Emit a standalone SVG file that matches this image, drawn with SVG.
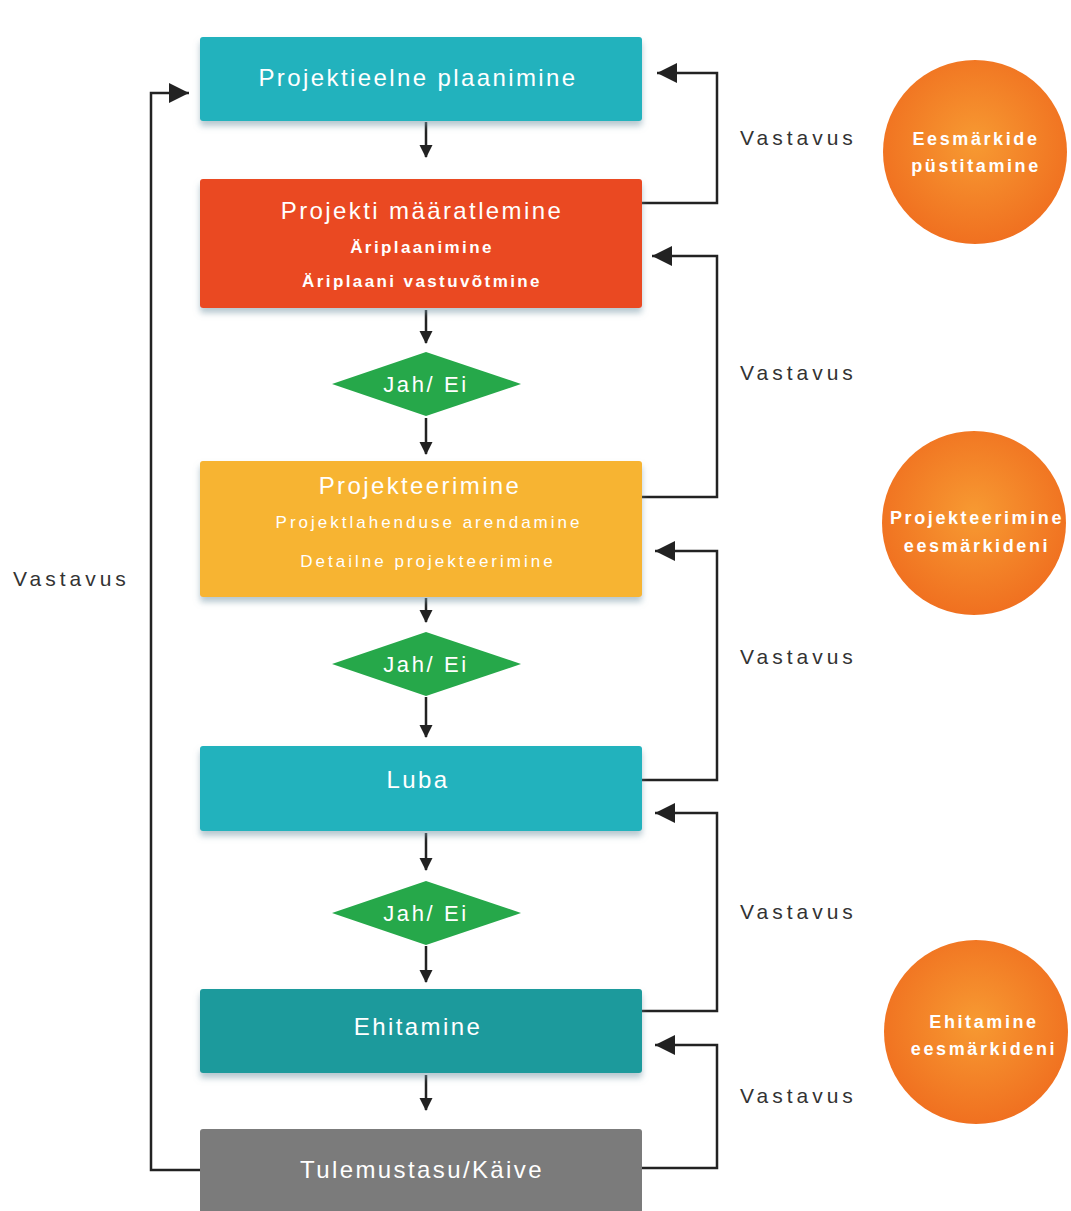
<svg xmlns="http://www.w3.org/2000/svg" width="1071" height="1211" viewBox="0 0 1071 1211">
<style>
.t{font-family:"Liberation Sans",Arial,sans-serif;fill:#fff;text-anchor:middle}
.big{font-size:24px;letter-spacing:2.4px}
.sm{font-size:17px;letter-spacing:3px}
.b{font-weight:bold;letter-spacing:2.4px}
.dm{font-size:22px;letter-spacing:2.6px}
.lab{font-family:"Liberation Sans",Arial,sans-serif;font-size:21px;letter-spacing:4px;fill:#333}
.cir{font-family:"Liberation Sans",Arial,sans-serif;font-size:18px;font-weight:bold;fill:#fff;text-anchor:middle;letter-spacing:2.6px}
.ln{fill:none;stroke:#222;stroke-width:2.5}
</style>
<defs>
<marker id="ah" markerWidth="14" markerHeight="14" refX="12" refY="6.5" orient="auto" markerUnits="userSpaceOnUse"><path d="M0,0 L13,6.5 L0,13 Z" fill="#222"/></marker>
<marker id="ab" markerWidth="22" markerHeight="20" refX="20" refY="10" orient="auto" markerUnits="userSpaceOnUse"><path d="M0,0 L20,10 L0,20 Z" fill="#222"/></marker>
<radialGradient id="og" cx="50%" cy="45%" r="55%"><stop offset="0" stop-color="#f79a32"/><stop offset="1" stop-color="#f07020"/></radialGradient>
<filter id="sh" x="-5%" y="-10%" width="110%" height="130%"><feDropShadow dx="0" dy="5" stdDeviation="3" flood-color="#7a9aa8" flood-opacity="0.55"/></filter>
</defs>
<rect width="1071" height="1211" fill="#fff"/>
<g id="connectors">
<line class="ln" x1="426" y1="122" x2="426" y2="157" marker-end="url(#ah)"/>
<line class="ln" x1="426" y1="310" x2="426" y2="343" marker-end="url(#ah)"/>
<line class="ln" x1="426" y1="418" x2="426" y2="454" marker-end="url(#ah)"/>
<line class="ln" x1="426" y1="598" x2="426" y2="622" marker-end="url(#ah)"/>
<line class="ln" x1="426" y1="697" x2="426" y2="737" marker-end="url(#ah)"/>
<line class="ln" x1="426" y1="833" x2="426" y2="870" marker-end="url(#ah)"/>
<line class="ln" x1="426" y1="946" x2="426" y2="982" marker-end="url(#ah)"/>
<line class="ln" x1="426" y1="1075" x2="426" y2="1110" marker-end="url(#ah)"/>
<polyline class="ln" points="642,203 717,203 717,73 657,73" marker-end="url(#ab)"/>
<polyline class="ln" points="642,497 717,497 717,256 652,256" marker-end="url(#ab)"/>
<polyline class="ln" points="642,780 717,780 717,551 655,551" marker-end="url(#ab)"/>
<polyline class="ln" points="642,1011 717,1011 717,813 655,813" marker-end="url(#ab)"/>
<polyline class="ln" points="642,1168 717,1168 717,1045 655,1045" marker-end="url(#ab)"/>
<polyline class="ln" points="200,1170 151,1170 151,93 189,93" marker-end="url(#ab)"/>
</g>
<g id="labels">
<text class="lab" x="740" y="145">Vastavus</text>
<text class="lab" x="740" y="380">Vastavus</text>
<text class="lab" x="740" y="664">Vastavus</text>
<text class="lab" x="740" y="919">Vastavus</text>
<text class="lab" x="740" y="1103">Vastavus</text>
<text class="lab" x="13" y="586">Vastavus</text>
</g>
<g id="n1"><rect x="200" y="37" width="442" height="84" rx="3" fill="#20b2bd" filter="url(#sh)"/><text class="t big" x="418" y="86">Projektieelne plaanimine</text></g>
<g id="n2"><rect x="200" y="179" width="442" height="129" rx="3" fill="#ea4a22" filter="url(#sh)"/><text class="t big" x="422" y="219">Projekti määratlemine</text><text class="t sm b" x="422" y="253">Äriplaanimine</text><text class="t sm b" x="422" y="287">Äriplaani vastuvõtmine</text></g>
<g id="d1"><polygon points="332,384 426,352 521,384 426,416" fill="#26a84a"/><text class="t dm" x="426" y="392">Jah/ Ei</text></g>
<g id="n3"><rect x="200" y="461" width="442" height="136" rx="3" fill="#f7b431" filter="url(#sh)"/><text class="t big" x="420" y="494">Projekteerimine</text><text class="t sm" x="429" y="528">Projektlahenduse arendamine</text><text class="t sm" x="428" y="567">Detailne projekteerimine</text></g>
<g id="d2"><polygon points="332,664 426,632 521,664 426,696" fill="#26a84a"/><text class="t dm" x="426" y="672">Jah/ Ei</text></g>
<g id="n4"><rect x="200" y="746" width="442" height="85" rx="3" fill="#20b2bd" filter="url(#sh)"/><text class="t big" x="418" y="788">Luba</text></g>
<g id="d3"><polygon points="332,913 426,881 521,913 426,945" fill="#26a84a"/><text class="t dm" x="426" y="921">Jah/ Ei</text></g>
<g id="n5"><rect x="200" y="989" width="442" height="84" rx="3" fill="#1c9a9c" filter="url(#sh)"/><text class="t big" x="418" y="1035">Ehitamine</text></g>
<g id="n6"><rect x="200" y="1129" width="442" height="90" rx="3" fill="#7b7b7b"/><text class="t big" x="422" y="1178">Tulemustasu/Käive</text></g>
<g id="c1"><circle cx="975" cy="152" r="92" fill="url(#og)"/><text class="cir" x="976" y="145">Eesmärkide</text><text class="cir" x="976" y="172">püstitamine</text></g>
<g id="c2"><circle cx="974" cy="523" r="92" fill="url(#og)"/><text class="cir" x="977" y="524">Projekteerimine</text><text class="cir" x="977" y="552">eesmärkideni</text></g>
<g id="c3"><circle cx="976" cy="1032" r="92" fill="url(#og)"/><text class="cir" x="984" y="1028">Ehitamine</text><text class="cir" x="984" y="1055">eesmärkideni</text></g>
</svg>
